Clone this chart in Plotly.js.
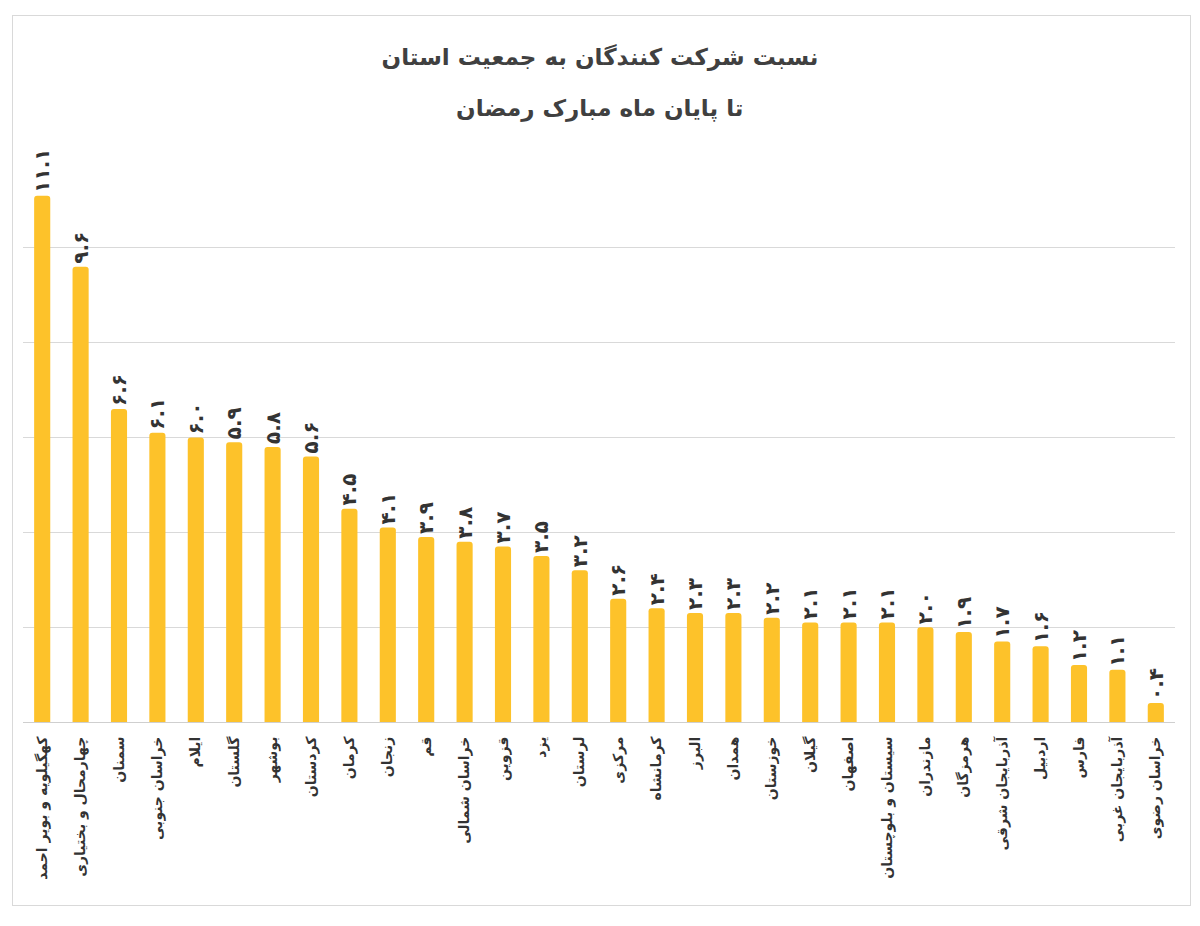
<!DOCTYPE html>
<html>
<head>
<meta charset="utf-8">
<script src="https://cdn.plot.ly/plotly-3.0.1.min.js"></script>
<style>
  html, body { margin: 0; padding: 0; background: #fff; }
  #chart { width: 1200px; height: 926px; }
  #frame { position: absolute; left: 12px; top: 15px; width: 1177px; height: 889px; border: 1px solid #d9d9d9; pointer-events: none; }
</style>
</head>
<body>
<div id="chart"></div>
<div id="frame"></div>
<script>
const provinces = [
  "کهگیلویه و بویر احمد", "چهارمحال و بختیاری", "سمنان", "خراسان جنوبی", "ایلام",
  "گلستان", "بوشهر", "کردستان", "کرمان", "زنجان",
  "قم", "خراسان شمالی", "قزوین", "یزد", "لرستان",
  "مرکزی", "کرمانشاه", "البرز", "همدان", "خوزستان",
  "گیلان", "اصفهان", "سیستان و بلوچستان", "مازندران", "هرمزگان",
  "آذربایجان شرقی", "اردبیل", "فارس", "آذربایجان غربی", "خراسان رضوی"
];
const ratio = [
  11.1, 9.6, 6.6, 6.1, 6.0,
  5.9, 5.8, 5.6, 4.5, 4.1,
  3.9, 3.8, 3.7, 3.5, 3.2,
  2.6, 2.4, 2.3, 2.3, 2.2,
  2.1, 2.1, 2.1, 2.0, 1.9,
  1.7, 1.6, 1.2, 1.1, 0.4
];
const titleLine1 = "نسبت شرکت کنندگان به جمعیت استان";
const titleLine2 = "تا پایان ماه مبارک رمضان";

const faDigits = "۰۱۲۳۴۵۶۷۸۹";
function toPersian(v) {
  return v.toFixed(1).replace(/[0-9]/g, d => faDigits[+d]);
}
const labels = ratio.map(toPersian);

const FONT = "DejaVu Sans, Noto Sans, sans-serif";

const trace = {
  type: "bar",
  x: provinces,
  y: ratio,
  text: labels,
  textposition: "outside",
  textangle: -90,
  constraintext: "none",
  cliponaxis: false,
  textfont: { family: FONT, size: 20, color: "#333333", weight: "bold" },
  marker: { color: "#FDC22A", cornerradius: 3, line: { width: 0 } },
  hoverinfo: "x+y"
};

const layout = {
  width: 1200,
  height: 926,
  margin: { l: 23, r: 25, t: 153, b: 204 },
  paper_bgcolor: "#ffffff",
  plot_bgcolor: "#ffffff",
  showlegend: false,
  bargap: 0.58,
  title: {
    text: titleLine1,
    font: { family: FONT, size: 23, color: "#404040", weight: "bold" },
    x: 0.5, xanchor: "center",
    y: 1 - 57 / 926, yref: "container", yanchor: "middle"
  },
  annotations: [{
    text: titleLine2,
    xref: "paper", yref: "paper",
    x: 0.5, y: (722 - 108) / 569,
    xanchor: "center", yanchor: "middle",
    showarrow: false,
    font: { family: FONT, size: 23, color: "#404040", weight: "bold" }
  }],
  xaxis: {
    type: "category",
    tickangle: -90,
    ticks: "",
    ticklabelstandoff: 8,
    showline: true,
    linecolor: "#cfcfcf",
    linewidth: 1,
    tickfont: { family: FONT, size: 14, color: "#333333", weight: "bold" },
    showgrid: false
  },
  yaxis: {
    range: [0, 12],
    dtick: 2,
    showticklabels: false,
    ticks: "",
    showgrid: true,
    gridcolor: "#d9d9d9",
    gridwidth: 1,
    zeroline: false,
    showline: false,
    fixedrange: true
  }
};

Plotly.newPlot("chart", [trace], layout, { displayModeBar: false, staticPlot: true });
</script>
</body>
</html>
